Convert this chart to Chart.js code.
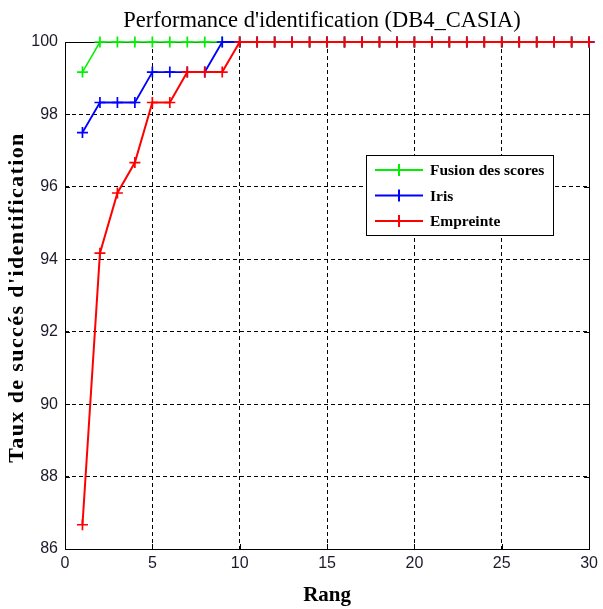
<!DOCTYPE html>
<html>
<head>
<meta charset="utf-8">
<script src="https://cdn.jsdelivr.net/npm/chart.js@4/dist/chart.umd.min.js"></script>
<style>
  html, body { margin: 0; padding: 0; background: #fff; }
  #wrap { width: 603px; height: 609px; }
</style>
</head>
<body>
<div id="wrap"><canvas id="c" width="603" height="609"></canvas></div>
<script>
// Rangs évalués
const rangs = [1, 2, 3, 4, 5, 6, 7, 8, 9, 10, 11, 12, 13, 14, 15, 16, 17, 18, 19, 20, 21, 22, 23, 24, 25, 26, 27, 28, 29, 30];

// Taux de succès (%) par rang
const fusionScores = [99.17, 100, 100, 100, 100, 100, 100, 100, 100, 100, 100, 100, 100, 100, 100, 100, 100, 100, 100, 100, 100, 100, 100, 100, 100, 100, 100, 100, 100, 100];
const iris = [97.5, 98.33, 98.33, 98.33, 99.17, 99.17, 99.17, 99.17, 100, 100, 100, 100, 100, 100, 100, 100, 100, 100, 100, 100, 100, 100, 100, 100, 100, 100, 100, 100, 100, 100];
const empreinte = [86.67, 94.17, 95.83, 96.67, 98.33, 98.33, 99.17, 99.17, 99.17, 100, 100, 100, 100, 100, 100, 100, 100, 100, 100, 100, 100, 100, 100, 100, 100, 100, 100, 100, 100, 100];

// Graduations des axes
const xTicks = [0, 5, 10, 15, 20, 25, 30];
const yTicks = [86, 88, 90, 92, 94, 96, 98, 100];

const titre = "Performance d'identification (DB4_CASIA)";
const labelX = "Rang";
const labelY = "Taux de succés d'identification";

const toPoints = vals => rangs.map((r, i) => ({ x: r, y: vals[i] }));

const serif = "'Liberation Serif', 'DejaVu Serif', serif";
const narrow = "'Liberation Sans Narrow', 'Liberation Sans', Arial, sans-serif";

function ds(label, vals, color, order, width) {
  return {
    label, data: toPoints(vals), order,
    borderColor: color, backgroundColor: color,
    borderWidth: width, pointStyle: 'cross', pointRadius: 5.5,
    pointBorderWidth: 1.7, pointBorderColor: color, pointHoverRadius: 5.5,
    tension: 0, clip: false
  };
}

// Cadre, petites graduations intérieures, titres et légende
const decor = {
  id: 'decor',
  beforeDatasetsDraw(chart) {
    const { ctx, chartArea: a, scales } = chart;
    ctx.save();
    ctx.strokeStyle = '#000';
    ctx.lineWidth = 1;
    ctx.setLineDash([]);
    ctx.strokeRect(Math.round(a.left) + 0.5, Math.round(a.top) + 0.5, Math.round(a.width), Math.round(a.height));
    ctx.beginPath();
    xTicks.forEach(v => {
      const px = Math.round(scales.x.getPixelForValue(v)) + 0.5;
      ctx.moveTo(px, a.bottom); ctx.lineTo(px, a.bottom - 5);
      ctx.moveTo(px, a.top); ctx.lineTo(px, a.top + 5);
    });
    yTicks.forEach(v => {
      const py = Math.round(scales.y.getPixelForValue(v)) + 0.5;
      ctx.moveTo(a.left, py); ctx.lineTo(a.left + 5, py);
      ctx.moveTo(a.right, py); ctx.lineTo(a.right - 5, py);
    });
    ctx.stroke();
    ctx.restore();
  },
  afterDraw(chart) {
    const { ctx, chartArea: a } = chart;
    ctx.save();
    ctx.fillStyle = '#000';

    // Titre
    ctx.font = `22.5px ${serif}`;
    ctx.textAlign = 'center';
    ctx.textBaseline = 'alphabetic';
    ctx.fillText(titre, 322, 27);

    // Titre de l'axe des abscisses
    ctx.font = `bold 21px ${serif}`;
    ctx.fillText(labelX, (a.left + a.right) / 2, 601);

    // Titre de l'axe des ordonnées
    ctx.save();
    ctx.translate(23, 297.5);
    ctx.rotate(-Math.PI / 2);
    ctx.font = `bold 22px ${serif}`;
    ctx.letterSpacing = '1.4px';
    ctx.textAlign = 'center';
    ctx.fillText(labelY, 0, 0);
    ctx.restore();

    // Légende
    const bx = 366, by = 155, bw = 187, bh = 80;
    ctx.fillStyle = '#fff';
    ctx.fillRect(bx, by, bw, bh);
    ctx.strokeStyle = '#000';
    ctx.lineWidth = 1;
    ctx.strokeRect(bx + 0.5, by + 0.5, bw, bh);
    [0, 1, 2].map(i => chart.data.datasets[i]).forEach((d, i) => {
      const y = by + 15 + i * 25.5;
      ctx.strokeStyle = d.borderColor;
      ctx.lineWidth = 2;
      ctx.beginPath();
      ctx.moveTo(375, y); ctx.lineTo(423, y);
      ctx.moveTo(399, y - 6); ctx.lineTo(399, y + 6);
      ctx.stroke();
      ctx.fillStyle = '#000';
      ctx.font = `bold 15.5px ${serif}`;
      ctx.textAlign = 'left';
      ctx.textBaseline = 'middle';
      ctx.fillText(d.label, 430, y + 1);
    });
    ctx.restore();
  }
};

new Chart(document.getElementById('c'), {
  type: 'line',
  data: {
    datasets: [
      ds('Fusion des scores', fusionScores, '#00f000', 2, 1.5),
      ds('Iris', iris, '#0000ff', 1, 1.8),
      ds('Empreinte', empreinte, '#ff0000', 0, 2)
    ]
  },
  options: {
    responsive: false,
    animation: false,
    events: [],
    layout: { padding: { left: 0, top: 42, right: 13, bottom: 0 } },
    plugins: { legend: { display: false }, title: { display: false }, tooltip: { enabled: false } },
    scales: {
      x: {
        type: 'linear', min: 0, max: 30,
        afterBuildTicks: s => { s.ticks = xTicks.map(v => ({ value: v })); },
        afterFit: s => { s.height = 60; },
        grid: { color: '#000', lineWidth: 1, drawTicks: false },
        border: { display: false, dash: [4, 3] },
        ticks: { color: '#1a1a2a', font: { family: narrow, size: 16 }, padding: 5, maxRotation: 0 },
        title: { display: false }
      },
      y: {
        type: 'linear', min: 86, max: 100,
        afterBuildTicks: s => { s.ticks = yTicks.map(v => ({ value: v })); },
        afterFit: s => { s.width = 65; },
        grid: { color: '#000', lineWidth: 1, drawTicks: false },
        border: { display: false, dash: [4, 3] },
        ticks: { color: '#1a1a2a', font: { family: narrow, size: 16 }, padding: 7 },
        title: { display: false }
      }
    }
  },
  plugins: [decor]
});
</script>
</body>
</html>
